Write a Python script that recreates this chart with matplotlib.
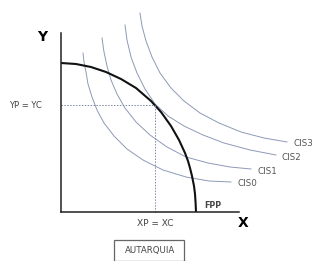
import matplotlib
matplotlib.use("Agg")
import matplotlib.pyplot as plt
from matplotlib.patches import Rectangle

# frontier of production possibilities
fpp_x = [0, 15, 30, 45, 60, 75, 90, 100, 110, 118, 124, 127, 129, 131, 133, 134, 134.6, 135]
fpp_y = [149, 148, 145, 140, 133, 124, 111, 100, 86, 72, 59, 51, 44, 36, 26, 18, 9, 0]

# indifference curves
cis0_x = [22, 23, 25, 27, 31, 36, 43, 53, 66, 82, 102, 125, 148, 170]
cis0_y = [159, 150, 140, 128, 115, 102, 89, 76, 63, 52, 42, 35, 31, 30]
cis1_x = [41, 43, 46, 50, 56, 64, 75, 89, 106, 125, 147, 169, 190]
cis1_y = [174, 160, 146, 132, 118, 104, 90, 77, 65, 55, 49, 45, 43]
cis2_x = [64, 66, 70, 76, 84, 94, 107, 123, 142, 163, 189, 215]
cis2_y = [187, 172, 155, 139, 123, 108, 96, 86, 77, 69, 62, 57]
cis3_x = [79, 81, 85, 91, 99, 110, 123, 139, 158, 180, 203, 226]
cis3_y = [199, 186, 171, 155, 139, 124, 111, 99, 89, 80, 74, 70]
cis_labels = ["CIS0", "CIS1", "CIS2", "CIS3"]

# autarky point
xp = 94
yp = 107

fig = plt.figure(figsize=(3.23, 2.61), dpi=100)
ax = fig.add_axes([0, 0, 1, 1])
ax.set_xlim(-61, 262)
ax.set_ylim(-49, 212)

curve_col = "#8d9ab6"
curves = [(cis0_x, cis0_y), (cis1_x, cis1_y), (cis2_x, cis2_y), (cis3_x, cis3_y)]
for (cx, cy), lab in zip(curves, cis_labels):
    ax.plot(cx, cy, color=curve_col, lw=0.7)
    ax.text(cx[-1] + 6, cy[-1] - 2, lab, fontsize=6.3, color="#555555",
            va="center", ha="left")

ax.plot(fpp_x, fpp_y, color="#111111", lw=1.5, solid_capstyle="butt")

# dotted guides to the autarky point
ax.plot([0, xp], [yp, yp], color="#7d89ad", lw=0.7, ls=(0, (1.5, 1.5)))
ax.plot([xp, xp], [0, yp], color="#7d89ad", lw=0.7, ls=(0, (1.5, 1.5)))

# axes drawn as spines
for s in ["top", "right"]:
    ax.spines[s].set_visible(False)
for s in ["left", "bottom"]:
    ax.spines[s].set_position(("data", 0))
    ax.spines[s].set_linewidth(1.1)
    ax.spines[s].set_color("#222222")
ax.spines["left"].set_bounds(0, 179)
ax.spines["bottom"].set_bounds(0, 178)
ax.set_xticks([])
ax.set_yticks([])
ax.patch.set_alpha(0)

ax.text(-19, 175, "Y", fontsize=10, fontweight="bold", ha="center", va="center")
ax.text(182, -11, "X", fontsize=10, fontweight="bold", ha="center", va="center")
ax.text(-36, yp, "YP = YC", fontsize=6, ha="center", va="center", color="#444444")
ax.text(xp, -12, "XP = XC", fontsize=6.5, ha="center", va="center", color="#444444")
ax.text(143, 6, "FPP", fontsize=5.8, fontweight="bold", ha="left", va="center",
        color="#444444")

ax.add_patch(Rectangle((53, -49), 70, 21, fill=False, edgecolor="#666666", lw=0.9))
ax.text(89, -38, "AUTARQUIA", fontsize=6.2, ha="center", va="center", color="#444444")

fig.savefig("out.png", dpi=100)
